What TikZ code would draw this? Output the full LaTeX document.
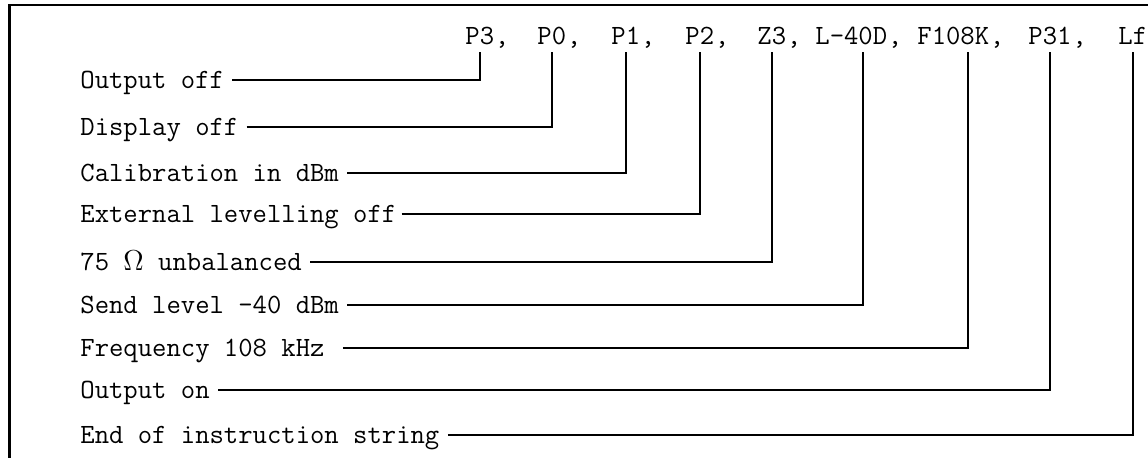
\documentclass[tikz,border=0pt]{standalone}
\usepackage{fontspec}
\tikzset{>=latex}
\tikzset{lbl/.style={anchor=west, inner sep=0pt, text height=9.5pt, text depth=1pt}}
\tikzset{tok/.style={anchor=base west, inner xsep=0pt, inner ysep=3.5pt, text depth=0pt}}
\tikzset{withcomma/.style={label={[anchor=base west, inner sep=0pt]base east:,}}}
\tikzset{conn/.style={line width=1pt, shorten <=4pt}}

\begin{document}
\begin{tikzpicture}[x=0.5pt, y=-0.5pt, font=\ttfamily\fontsize{13.94pt}{16pt}\selectfont]
    \useasboundingbox(0, 0) rectangle (1148, 458);
    \draw[line width=1.5pt](9, 458)--(9, 4.8);
    \draw[line width=1pt](8.25, 5.5)--(1148, 5.5);
    % instruction string
    \node[tok, withcomma](p3) at (465, 45){P3};
    \node[tok, withcomma](p0) at (537, 45){P0};
    \node[tok, withcomma](p1) at (611, 45){P1};
    \node[tok, withcomma](p2) at (685, 45){P2};
    \node[tok, withcomma](z3) at (757, 45){Z3};
    \node[tok, withcomma](lvl) at (815, 45){L-40D};
    \node[tok, withcomma](frq) at (917, 45){F108K};
    \node[tok, withcomma](p31) at (1028, 45){P31};
    \node[tok](lf) at (1118, 45){Lf};
    % meanings
    \node[lbl](outoff) at (80, 80){Output off};
    \node[lbl](dispoff) at (80, 127){Display off};
    \node[lbl](cal) at (80, 173){Calibration in dBm};
    \node[lbl](extlev) at (80, 214){External levelling off};
    \node[lbl](imp) at (80, 262){75 $\Omega$ unbalanced};
    \node[lbl](send) at (80, 305){Send level -40 dBm};
    \node[lbl](freq) at (80, 348){Frequency 108 kHz};
    \node[lbl](outon) at (80, 390){Output on};
    \node[lbl](eos) at (80, 435){End of instruction string};
    \draw[conn](outoff) -| (p3.south);
    \draw[conn](dispoff) -| (p0.south);
    \draw[conn](cal) -| (p1.south);
    \draw[conn, shorten <=2.5pt](extlev) -| (p2.south);
    \draw[conn](imp) -| (z3.south);
    \draw[conn](send) -| ([xshift=5.75pt]lvl.south);
    \draw[conn, shorten <=9pt](freq) -| ([xshift=7.25pt]frq.south);
    \draw[conn](outon) -| (p31.south);
    \draw[conn](eos) -| (lf.south);
\end{tikzpicture}
\end{document}
